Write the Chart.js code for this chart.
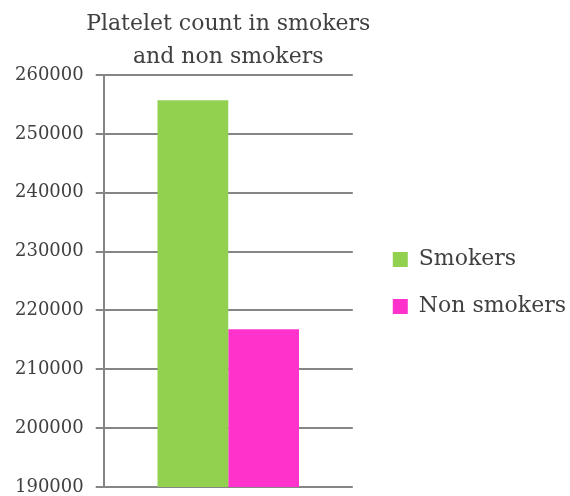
<!DOCTYPE html>
<html>
<head>
<meta charset="utf-8">
<script src="https://cdn.jsdelivr.net/npm/chart.js@4.4.0/dist/chart.umd.min.js"></script>
<style>
  html, body { margin: 0; padding: 0; background: #fff; }
  #wrap { width: 570px; height: 496px; }
</style>
</head>
<body>
<div id="wrap"><canvas id="plateletChart"></canvas></div>
<script>
// Data
const categories = [''];
const seriesNames = ['Smokers', 'Non smokers'];
const smokers = [255700];
const nonSmokers = [216800];
const yTicks = [190000, 200000, 210000, 220000, 230000, 240000, 250000, 260000];

const gridGray = '#868686';
const textGray = '#404040';

// Chart.js caps a side legend at a quarter of the width, and squeezes a
// non-full-size title into the plot width; loosen both a little.
const looseBoxes = {
  id: 'looseBoxes',
  afterInit(chart) {
    const legend = chart.legend;
    const legendFit = legend.fit;
    legend.fit = function () {
      this.maxWidth = 260;
      legendFit.call(this);
    };
    const legendDraw = legend.draw;
    legend.draw = function () {
      const c = this.ctx;
      c.save();
      c.translate(15, 2);
      legendDraw.call(this);
      c.restore();
    };

    const title = chart.titleBlock;
    const titleDraw = title.draw;
    title.draw = function () {
      const l = this.left, r = this.right;
      this.left = l - 60;
      this.right = r + 60;
      titleDraw.call(this);
      this.left = l;
      this.right = r;
    };
  },
};

function createChart() {
  const ctx = document.getElementById('plateletChart').getContext('2d');

  new Chart(ctx, {
    type: 'bar',
    data: {
      labels: categories,
      datasets: [
        {
          label: seriesNames[0],
          data: smokers,
          backgroundColor: '#92D050',
          categoryPercentage: 0.568,
          barPercentage: 1,
        },
        {
          label: seriesNames[1],
          data: nonSmokers,
          backgroundColor: '#FF33CC',
          categoryPercentage: 0.568,
          barPercentage: 1,
        },
      ],
    },
    plugins: [looseBoxes],
    options: {
      responsive: true,
      maintainAspectRatio: false,
      animation: false,
      layout: {
        padding: { left: 3, right: 9, top: 0, bottom: 9 },
      },
      plugins: {
        title: {
          display: true,
          fullSize: false,
          text: ['Platelet count in smokers', 'and non smokers'],
          color: textGray,
          font: { family: 'DejaVu Serif', size: 22, weight: 'normal', lineHeight: 1.5 },
          padding: { top: 8, bottom: 1 },
        },
        legend: {
          position: 'right',
          fullSize: false,
          labels: {
            boxWidth: 15,
            boxHeight: 15,
            padding: 25,
            color: textGray,
            font: { family: 'DejaVu Serif', size: 22 },
          },
        },
        tooltip: { enabled: false },
      },
      scales: {
        x: {
          display: false,
        },
        y: {
          min: yTicks[0],
          max: yTicks[yTicks.length - 1],
          afterBuildTicks: axis => {
            axis.ticks = yTicks.map(v => ({ value: v }));
          },
          afterFit: axis => {
            axis.paddingTop = 0;
            axis.paddingBottom = 0;
          },
          border: { color: gridGray, width: 2 },
          grid: { color: gridGray, lineWidth: 2, tickLength: 8 },
          ticks: {
            color: textGray,
            padding: 12,
            font: { family: 'DejaVu Serif', size: 18 },
            callback: value => String(value),
          },
        },
      },
    },
  });
}

window.onload = createChart;
</script>
</body>
</html>
